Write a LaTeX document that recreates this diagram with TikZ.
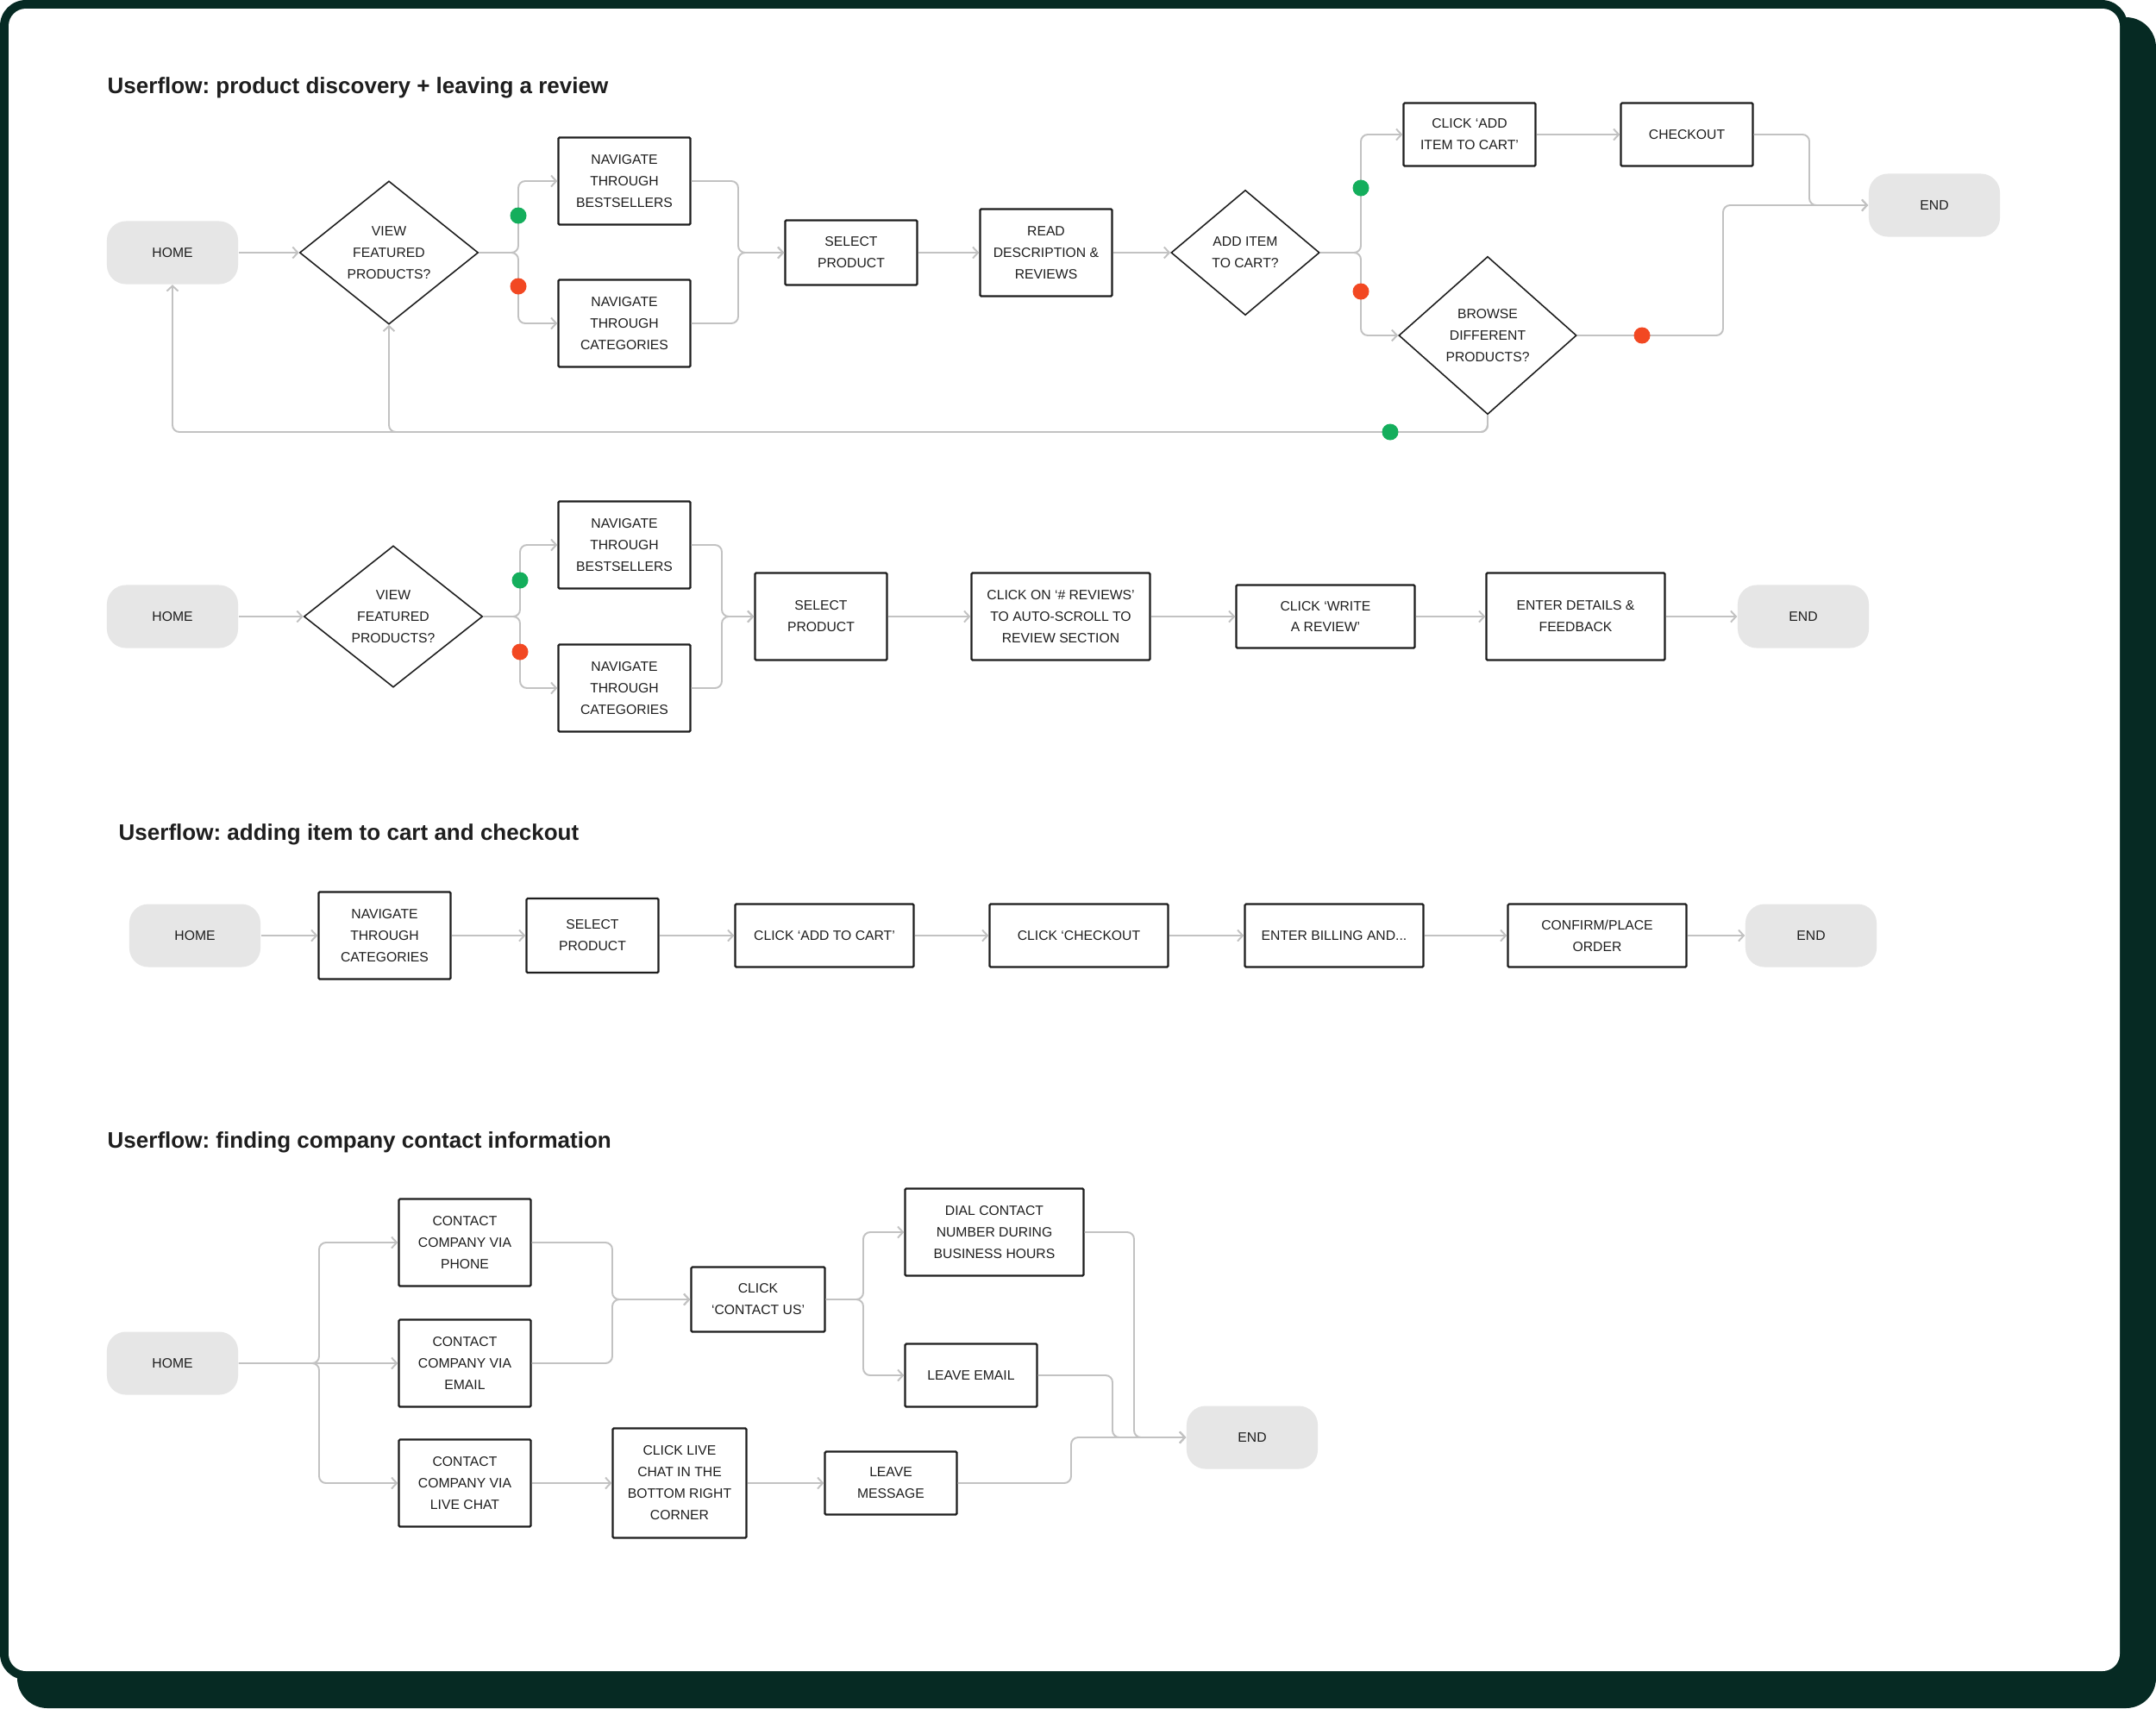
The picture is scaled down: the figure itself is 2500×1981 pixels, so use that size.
\documentclass[tikz,border=0pt]{standalone}
\usepackage{fontspec}
\setmainfont{Liberation Sans}
\frenchspacing
\usepackage{tikz}
\usetikzlibrary{arrows.meta,positioning,shapes.geometric}
\definecolor{frameGreen}{HTML}{062A23}
\definecolor{pillGrey}{HTML}{E6E6E6}
\definecolor{wireGrey}{HTML}{C2C2C2}
\definecolor{inkDark}{HTML}{1E1E1E}
\definecolor{yesGreen}{HTML}{14AE5C}
\definecolor{noRed}{HTML}{F24822}

\begin{document}
\begin{tikzpicture}[
  x=0.01cm, y=-0.01cm,
  font=\fontsize{4.47}{7.1}\selectfont,
  text=inkDark,
  pill/.style={fill=pillGrey, rounded corners=0.22cm, minimum width=1.52cm,
               minimum height=0.73cm, inner sep=0pt, align=center},
  stepbox/.style={draw=inkDark, line width=0.65pt, fill=white, rounded corners=0.4pt,
                  minimum width=1.53cm, minimum height=1.01cm, inner sep=0pt, align=center},
  widebox/.style={stepbox, minimum width=2.07cm},
  decision/.style={diamond, draw=inkDark, line width=0.45pt, fill=white,
                   inner sep=0pt, align=center},
  wireto/.style={draw=wireGrey, line width=0.55pt, rounded corners=0.08cm,
                 -{Straight Barb[length=0.6mm,width=1.3mm]}},
  yesdot/.style={circle, fill=yesGreen, minimum size=0.19cm, inner sep=0pt},
  nodot/.style={circle, fill=noRed, minimum size=0.19cm, inner sep=0pt},
  heading/.style={font=\fontsize{7.4}{9}\selectfont\bfseries, anchor=base west, inner sep=0pt}
]
\fill[white] (0,0) rectangle (2500,1981);
\fill[frameGreen, rounded corners=0.35cm] (20,20) rectangle (2500,1981);
\fill[frameGreen, rounded corners=0.3cm] (0,0) rectangle (2467,1948);
\fill[white, rounded corners=0.2cm] (10,10) rectangle (2458,1938);

\node[heading] (t1) at (124,108) {Userflow: product discovery + leaving a review};

\node[pill] (home1) at (200,293) {HOME};
\node[decision, minimum width=2.07cm, minimum height=1.66cm] (dec1) at (451,293) {VIEW\\FEATURED\\PRODUCTS?};
\node[stepbox] (nb1) at (724,210) {NAVIGATE\\THROUGH\\BESTSELLERS};
\node[stepbox] (nc1) at (724,375) {NAVIGATE\\THROUGH\\CATEGORIES};
\node[stepbox, minimum height=0.75cm] (sp1) at (987,293) {SELECT\\PRODUCT};
\node[stepbox] (rd1) at (1213,293) {READ\\DESCRIPTION \&\\REVIEWS};
\node[decision, minimum width=1.72cm, minimum height=1.45cm] (dec2) at (1444,293) {ADD ITEM\\TO CART?};
\node[stepbox, minimum height=0.73cm] (cart1) at (1704,156) {CLICK ‘ADD\\ITEM TO CART’};
\node[stepbox, minimum height=0.73cm] (chk1) at (1956,156) {CHECKOUT};
\node[pill] (end1) at (2243,238) {END};
\node[decision, minimum width=2.06cm, minimum height=1.83cm] (dec3) at (1725,389) {BROWSE\\DIFFERENT\\PRODUCTS?};

\coordinate (s1) at (601,293);
\coordinate (m1) at (856,293);
\coordinate (s2) at (1578,293);
\coordinate (m2) at (2098,238);
\coordinate (m3) at (1998,238);
\coordinate (lp) at (1725,501);

\draw[wireto] (home1) -- (dec1);
\draw[wireto] (dec1.east) -- (s1) |- (nb1.west);
\draw[wireto] (dec1.east) -- (s1) |- (nc1.west);
\draw[wireto] (nb1.east) -| (m1) -- (sp1.west);
\draw[wireto] (nc1.east) -| (m1) -- (sp1.west);
\draw[wireto] (sp1) -- (rd1);
\draw[wireto] (rd1) -- (dec2);
\draw[wireto] (dec2.east) -- (s2) |- (cart1.west);
\draw[wireto] (dec2.east) -- (s2) |- (dec3.west);
\draw[wireto] (cart1) -- (chk1);
\draw[wireto] (chk1.east) -| (m2) -- (end1.west);
\draw[wireto] (dec3.east) -| (m3) -- (end1.west);
\draw[wireto] (dec3.south) -- (lp) -| (home1.south);
\draw[wireto] (dec3.south) -- (lp) -| (dec1.south);

\node[yesdot] (y1) at (601,250) {};
\node[nodot] (n1) at (601,332) {};
\node[yesdot] (y2) at (1578,218) {};
\node[nodot] (n2) at (1578,338) {};
\node[nodot] (n3) at (1904,389) {};
\node[yesdot] (y3) at (1612,501) {};

\node[pill] (home2) at (200,715) {HOME};
\node[decision, minimum width=2.07cm, minimum height=1.64cm] (dec4) at (456,715) {VIEW\\FEATURED\\PRODUCTS?};
\node[stepbox] (nb2) at (724,632) {NAVIGATE\\THROUGH\\BESTSELLERS};
\node[stepbox] (nc2) at (724,798) {NAVIGATE\\THROUGH\\CATEGORIES};
\node[stepbox] (sp2) at (952,715) {SELECT\\PRODUCT};
\node[widebox] (rv) at (1230,715) {CLICK ON ‘\# REVIEWS’\\TO AUTO-SCROLL TO\\REVIEW SECTION};
\node[widebox, minimum height=0.73cm] (wr) at (1537,715) {CLICK ‘WRITE\\A REVIEW’};
\node[widebox] (ed) at (1827,715) {ENTER DETAILS \&\\FEEDBACK};
\node[pill] (end2) at (2091,715) {END};

\coordinate (s3) at (603,715);
\coordinate (m4) at (837,715);

\draw[wireto] (home2) -- (dec4);
\draw[wireto] (dec4.east) -- (s3) |- (nb2.west);
\draw[wireto] (dec4.east) -- (s3) |- (nc2.west);
\draw[wireto] (nb2.east) -| (m4) -- (sp2.west);
\draw[wireto] (nc2.east) -| (m4) -- (sp2.west);
\draw[wireto] (sp2) -- (rv);
\draw[wireto] (rv) -- (wr);
\draw[wireto] (wr) -- (ed);
\draw[wireto] (ed) -- (end2);

\node[yesdot] (y4) at (603,673) {};
\node[nodot] (n4) at (603,756) {};

\node[heading] (t3) at (137,974) {Userflow: adding item to cart and checkout};

\node[pill] (home3) at (226,1085) {HOME};
\node[stepbox] (nc3) at (446,1085) {NAVIGATE\\THROUGH\\CATEGORIES};
\node[stepbox, minimum height=0.86cm] (sp3) at (687,1085) {SELECT\\PRODUCT};
\node[widebox, minimum height=0.73cm] (atc) at (956,1085) {CLICK ‘ADD TO CART’};
\node[widebox, minimum height=0.73cm] (co) at (1251,1085) {CLICK ‘CHECKOUT};
\node[widebox, minimum height=0.73cm] (bill) at (1547,1085) {ENTER BILLING AND...};
\node[widebox, minimum height=0.73cm] (conf) at (1852,1085) {CONFIRM/PLACE\\ORDER};
\node[pill] (end3) at (2100,1085) {END};

\draw[wireto] (home3) -- (nc3);
\draw[wireto] (nc3) -- (sp3);
\draw[wireto] (sp3) -- (atc);
\draw[wireto] (atc) -- (co);
\draw[wireto] (co) -- (bill);
\draw[wireto] (bill) -- (conf);
\draw[wireto] (conf) -- (end3);

\node[heading] (t4) at (124,1331) {Userflow: finding company contact information};

\node[pill] (home4) at (200,1581) {HOME};
\node[stepbox] (cp) at (539,1441) {CONTACT\\COMPANY VIA\\PHONE};
\node[stepbox] (ce) at (539,1581) {CONTACT\\COMPANY VIA\\EMAIL};
\node[stepbox] (cl) at (539,1720) {CONTACT\\COMPANY VIA\\LIVE CHAT};
\node[stepbox, minimum width=1.55cm, minimum height=0.75cm] (cu) at (879,1507) {CLICK\\‘CONTACT US’};
\node[widebox] (dial) at (1153,1429) {DIAL CONTACT\\NUMBER DURING\\BUSINESS HOURS};
\node[stepbox, minimum height=0.73cm] (le) at (1126,1595) {LEAVE EMAIL};
\node[stepbox, minimum width=1.55cm, minimum height=1.27cm] (clc) at (788,1720) {CLICK LIVE\\CHAT IN THE\\BOTTOM RIGHT\\CORNER};
\node[stepbox, minimum height=0.73cm] (lm) at (1033,1720) {LEAVE\\MESSAGE};
\node[pill] (end4) at (1452,1667) {END};

\coordinate (s4) at (370,1581);
\coordinate (m5) at (710,1507);
\coordinate (s5) at (1001,1507);
\coordinate (m6) at (1315,1667);
\coordinate (m7) at (1290,1667);
\coordinate (m8) at (1242,1667);

\draw[wireto] (home4.east) -- (s4) |- (cp.west);
\draw[wireto] (home4) -- (ce);
\draw[wireto] (home4.east) -- (s4) |- (cl.west);
\draw[wireto] (cp.east) -| (m5) -- (cu.west);
\draw[wireto] (ce.east) -| (m5) -- (cu.west);
\draw[wireto] (cu.east) -- (s5) |- (dial.west);
\draw[wireto] (cu.east) -- (s5) |- (le.west);
\draw[wireto] (dial.east) -| (m6) -- (end4.west);
\draw[wireto] (le.east) -| (m7) -- (end4.west);
\draw[wireto] (cl) -- (clc);
\draw[wireto] (clc) -- (lm);
\draw[wireto] (lm.east) -| (m8) -- (end4.west);
\end{tikzpicture}
\end{document}
